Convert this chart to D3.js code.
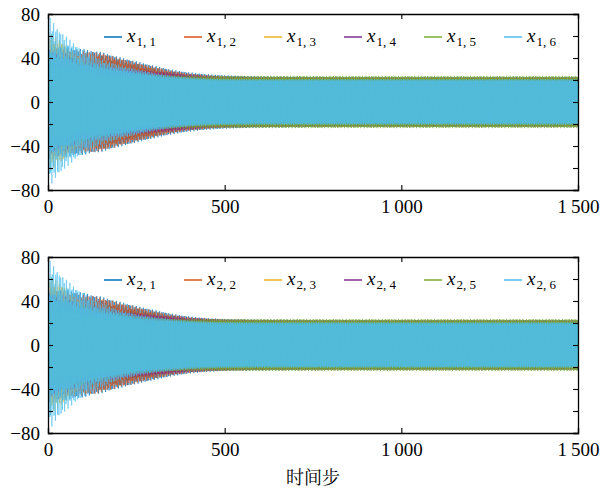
<!DOCTYPE html>
<html><head><meta charset="utf-8">
<script src="https://cdn.jsdelivr.net/npm/d3@7"></script>
<style>body{margin:0;background:#fff}svg{display:block}</style>
</head><body>
<svg id="c" width="603" height="492"></svg>
<script>
// ---- data: envelopes (peak and trough amplitude) ----
const envSteps = [0, 25, 50, 75, 100, 150, 200, 250, 300, 350, 400, 450, 500, 600, 800, 1000, 1500];
const seriesNames1 = ["1, 1", "1, 2", "1, 3", "1, 4", "1, 5", "1, 6"];
const seriesNames2 = ["2, 1", "2, 2", "2, 3", "2, 4", "2, 5", "2, 6"];
const colors = ["#0072BD", "#D95319", "#EDB120", "#7E2F8E", "#77AC30", "#4DBEEE"];
// panel 1
const p1_outer1 = [52, 51, 50, 49, 48, 45.5, 41, 37, 33, 29.5, 27, 25.3, 24.3, 23.3, 22.8, 22.8, 22.8];
const p1_inner1 = [30, 30, 30, 31, 33, 35, 33, 30, 27, 24.5, 22.5, 21.5, 21, 20.5, 20.2, 20.2, 20.2];
const p1_outer2 = [50, 49, 48, 47, 46.5, 44.5, 40, 36, 32, 28.5, 26, 24.5, 23.3, 22.8, 22.5, 22.5, 22.5];
const p1_inner2 = [30, 30, 30, 31, 33, 35, 32, 29, 26.5, 24, 22.3, 21.3, 20.8, 20.3, 20, 20, 20];
const p1_outer3 = [64, 58, 52, 45, 39, 31, 26, 24, 22.5, 22, 21.8, 21.6, 21.5, 21.5, 21.5, 21.5, 21.5];
const p1_inner3 = [40, 38, 35, 31, 28, 24, 21, 20, 19.5, 19.2, 19, 19, 19, 19, 19, 19, 19];
const p1_outer4 = [48, 46, 44, 41, 38, 34, 31, 29.5, 28, 26.5, 25, 24, 23.3, 22.8, 22.5, 22.5, 22.5];
const p1_inner4 = [30, 30, 29, 28, 27.5, 26, 25, 24, 23, 22, 21, 20.5, 20.2, 20, 20, 20, 20];
const p1_outer5 = [46, 44, 42, 40, 37, 33, 29.5, 27, 25, 24.2, 23.9, 23.8, 23.8, 23.8, 23.8, 23.8, 23.8];
const p1_inner5 = [30, 29, 28, 27, 26, 24, 23, 22, 21.2, 21, 20.9, 20.8, 20.8, 20.8, 20.8, 20.8, 20.8];
const p1_outer6 = [79, 68, 60, 53, 47, 39, 34, 30, 26.5, 24, 22.4, 21.5, 21, 20.8, 20.8, 20.8, 20.8];
const p1_inner6 = [42, 40, 38, 35, 33, 30, 28, 25.5, 23, 21.3, 20.3, 19.6, 19.2, 19, 19, 19, 19];
// panel 2
const p2_outer1 = [52, 51, 50, 49, 47.5, 44, 39.5, 35.5, 32, 28.5, 26, 24.5, 23.7, 23.2, 22.8, 22.8, 22.8];
const p2_inner1 = [30, 30, 30, 31, 32, 33, 31, 28.5, 26.5, 24, 22.3, 21.4, 20.9, 20.4, 20.2, 20.2, 20.2];
const p2_outer2 = [50, 49, 48, 47, 46, 43, 38.7, 34.7, 31, 27.7, 25.3, 24, 23.2, 22.8, 22.5, 22.5, 22.5];
const p2_inner2 = [30, 30, 30, 30.5, 31, 31, 28.5, 26.5, 24.5, 23, 21.8, 21, 20.6, 20.2, 20, 20, 20];
const p2_outer3 = [64, 58, 52, 45, 39, 31, 26, 24, 22.5, 22, 21.8, 21.6, 21.5, 21.5, 21.5, 21.5, 21.5];
const p2_inner3 = [40, 38, 35, 31, 28, 24, 21, 20, 19.5, 19.2, 19, 19, 19, 19, 19, 19, 19];
const p2_outer4 = [48, 46, 44, 41, 38, 33.5, 30.5, 29, 27.5, 26, 24.7, 23.8, 23.2, 22.7, 22.5, 22.5, 22.5];
const p2_inner4 = [30, 30, 29, 28, 27.5, 26, 25, 24, 23, 22, 21, 20.5, 20.2, 20, 20, 20, 20];
const p2_outer5 = [46, 44, 42, 40, 37, 33, 29, 26.5, 24.7, 24, 23.8, 23.7, 23.7, 23.7, 23.7, 23.7, 23.7];
const p2_inner5 = [30, 29, 28, 27, 26, 24, 23, 22, 21.2, 21, 20.9, 20.8, 20.8, 20.8, 20.8, 20.8, 20.8];
const p2_outer6 = [79, 68, 60, 53, 47, 38, 32, 28, 25.5, 23.5, 22.2, 21.4, 21, 20.8, 20.8, 20.8, 20.8];
const p2_inner6 = [42, 40, 38, 35, 32.5, 29, 26.5, 23.5, 22, 21, 20.1, 19.5, 19.1, 19, 19, 19, 19];
const stripeSteps = 5.1;              // steps between stripes; sign alternates every step
const phases = [0.0, 2.1, 4.2, 1.0, 3.1, 5.2];
const xTicks = [0, 500, 1000, 1500];
const yTicks = [-80, -60, -40, -20, 0, 20, 40, 60, 80];
const yLabels = [-80, -40, 0, 40, 80];
const xLabel = "时间步";

// ---- drawing ----
const svg = d3.select("#c");
const x = d3.scaleLinear().domain([0, 1500]).range([48, 578]);
const fmt = d3.formatLocale({decimal: ".", thousands: "\u2009", grouping: [3], currency: ["", ""], minus: "\u2212"}).format(",d");
const serif = "'Liberation Serif', 'DejaVu Serif', serif";

function drawPanel(top, bottom, outers, inners, names) {
  const y = d3.scaleLinear().domain([-80, 80]).range([bottom, top]);
  const g = svg.append("g");
  const clipId = "clip" + top;
  svg.append("clipPath").attr("id", clipId).append("rect")
    .attr("x", x(0)).attr("y", top).attr("width", x(1500) - x(0)).attr("height", bottom - top);
  const steps = d3.range(0, 1501);
  outers.forEach((outer, i) => {
    const hi = d3.scaleLinear().domain(envSteps).range(outer);
    const lo = d3.scaleLinear().domain(envSteps).range(inners[i]);
    const pts = steps.map(t => {
      const m = (1 + Math.cos(2 * Math.PI * t / stripeSteps + phases[i])) / 2;
      const a = lo(t) + (hi(t) - lo(t)) * m;
      return [t, (t % 2 ? -1 : 1) * a];
    });
    g.append("path")
      .attr("clip-path", `url(#${clipId})`)
      .attr("d", d3.line().x(d => x(d[0])).y(d => y(d[1]))(pts))
      .attr("fill", "none").attr("stroke", colors[i]).attr("stroke-width", 0.7)
      .attr("stroke-opacity", 0.85);
  });
  // axes
  const axL = d3.axisLeft(y).tickValues(yTicks).tickSize(-5).tickPadding(8)
    .tickFormat(d => yLabels.includes(d) ? fmt(d) : "");
  const axR = d3.axisRight(y).tickValues(yTicks).tickSize(-5).tickFormat("");
  const axB = d3.axisBottom(x).tickValues(xTicks).tickSize(-5).tickPadding(10).tickFormat(fmt);
  const axT = d3.axisTop(x).tickValues(xTicks).tickSize(-5).tickFormat("");
  const axes = [
    svg.append("g").attr("transform", `translate(${x(0)},0)`).call(axL),
    svg.append("g").attr("transform", `translate(${x(1500)},0)`).call(axR),
    svg.append("g").attr("transform", `translate(0,${bottom})`).call(axB),
    svg.append("g").attr("transform", `translate(0,${top})`).call(axT)
  ];
  axes.forEach(a => {
    a.select(".domain").attr("stroke", "#000").attr("stroke-width", 1.3);
    a.selectAll(".tick line").attr("stroke", "#000").attr("stroke-width", 1.1);
    a.selectAll(".tick text").attr("font-family", serif).attr("font-size", 19).attr("fill", "#000");
  });
  // legend
  const ly = top + 23;
  names.forEach((n, i) => {
    const lx = 104 + i * 80;
    svg.append("line").attr("x1", lx).attr("x2", lx + 18).attr("y1", ly).attr("y2", ly)
      .attr("stroke", colors[i]).attr("stroke-width", 2).attr("stroke-opacity", 0.75);
    const t = svg.append("text").attr("x", lx + 23).attr("y", ly + 4.5)
      .attr("font-family", serif).attr("font-size", 19);
    t.append("tspan").attr("font-style", "italic").text("x");
    t.append("tspan").attr("font-size", 13).attr("dy", 4).attr("dx", 1).text(n);
  });
}

drawPanel(14, 190,
  [p1_outer1, p1_outer2, p1_outer3, p1_outer4, p1_outer5, p1_outer6],
  [p1_inner1, p1_inner2, p1_inner3, p1_inner4, p1_inner5, p1_inner6], seriesNames1);
drawPanel(257, 433,
  [p2_outer1, p2_outer2, p2_outer3, p2_outer4, p2_outer5, p2_outer6],
  [p2_inner1, p2_inner2, p2_inner3, p2_inner4, p2_inner5, p2_inner6], seriesNames2);

svg.append("text").attr("x", (x(0) + x(1500)) / 2).attr("y", 484).attr("text-anchor", "middle")
  .attr("font-family", "'Noto Serif CJK SC', 'Noto Sans CJK SC', sans-serif").attr("font-size", 18)
  .text(xLabel);
</script>
</body></html>
